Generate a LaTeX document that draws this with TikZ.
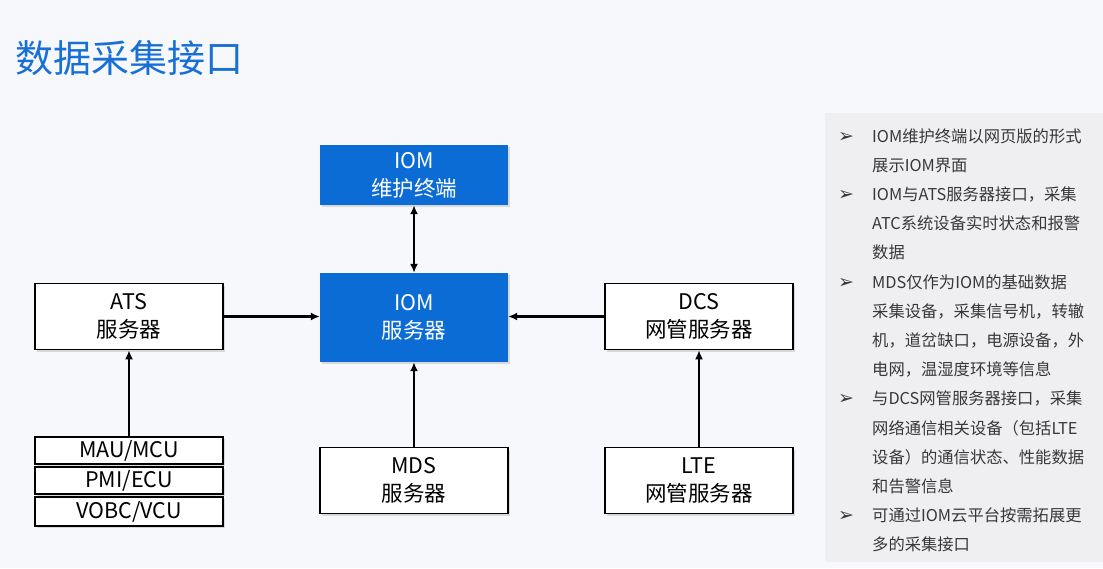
\documentclass[tikz,border=0pt]{standalone}
\usepackage{fontspec}
\setmainfont{Noto Sans CJK SC}
\newfontfamily\symfont{DejaVu Sans}
\usepackage{tikz}
\usetikzlibrary{positioning, arrows.meta, shadows}

\definecolor{iomblue}{RGB}{12,108,214}
\definecolor{titleblue}{RGB}{24,112,214}
\definecolor{pagebg}{RGB}{247,248,252}
\definecolor{panelbg}{RGB}{239,239,242}
\definecolor{paneltxt}{RGB}{56,56,56}

\tikzset{
    bluebox/.style={fill=iomblue, text=white, minimum width=188pt, align=center,
        font=\fontsize{21.5}{28}\selectfont, drop shadow={shadow xshift=2pt, shadow yshift=-2pt, opacity=0.25}},
    whitebox/.style={fill=white, draw=black, line width=1.6pt, minimum width=188pt, align=center,
        font=\fontsize{21.5}{28}\selectfont, drop shadow={shadow xshift=2pt, shadow yshift=-2pt, opacity=0.25}},
    stackbox/.style={whitebox, minimum height=27pt, inner sep=0pt},
    link/.style={line width=2.4pt, -{Latex[length=9pt,width=8pt]}},
    paneltext/.style={anchor=base west, text=paneltxt, inner sep=0pt, font=\fontsize{16.3}{20}\selectfont},
    bullet/.style={anchor=base, text=paneltxt, inner sep=0pt, font=\symfont\fontsize{19}{20}\selectfont}
}

\begin{document}
\begin{tikzpicture}[x=1pt,y=-1pt]
    \fill[pagebg] (0,0) rectangle (1103,568);
    \useasboundingbox (0,0) rectangle (1103,568);
    \fill[panelbg] (825,113) rectangle (1103,562);

    % title
    \node[anchor=west, text=titleblue, font=\fontsize{38}{40}\selectfont] (title) at (12,58) {数据采集接口};

    % boxes
    \node[bluebox, minimum height=60pt] (term) at (414,175) {IOM\\维护终端};
    \node[bluebox, minimum height=89pt] (iom) at (414,317.5) {IOM\\服务器};
    \node[whitebox, minimum height=66pt] (ats) at (129,316.5) {ATS\\服务器};
    \node[whitebox, minimum height=66pt] (dcs) at (699,316.5) {DCS\\网管服务器};
    \node[whitebox, minimum height=66pt] (mds) at (414,480.5) {MDS\\服务器};
    \node[whitebox, minimum height=66pt] (lte) at (699,480.5) {LTE\\网管服务器};
    \node[stackbox] (mau) at (129,450.5) {MAU/MCU};
    \node[stackbox] (pmi) at (129,480.5) {PMI/ECU};
    \node[stackbox, minimum height=29pt] (vobc) at (129,511.5) {VOBC/VCU};

    % connections
    \draw[link, {Latex[length=9pt,width=8pt]}-{Latex[length=9pt,width=8pt]}] (term.south) -- (iom.north);
    \draw[link] (ats.east) -- (ats.east -| iom.west);
    \draw[link] (dcs.west) -- (dcs.west -| iom.east);
    \draw[link] (mds.north) -- (iom.south);
    \draw[link] (lte.north) -- (dcs.south);
    \draw[link] (mau.north) -- (ats.south);

    % notes
    \foreach \txt [count=\i from 0] in {IOM维护终端以网页版的形式, 展示IOM界面,
        IOM与ATS服务器接口，采集, ATC系统设备实时状态和报警, 数据,
        MDS仅作为IOM的基础数据, 采集设备，采集信号机，转辙, 机，道岔缺口，电源设备，外, 电网，温湿度环境等信息,
        与DCS网管服务器接口，采集, 网络通信相关设备（包括LTE, 设备）的通信状态、性能数据, 和告警信息,
        可通过IOM云平台按需拓展更, 多的采集接口}{
        \node[paneltext] (l\i) at (872,{142+29.2*\i}) {\txt};
    }
    \foreach \i in {0,2,5,9,13}{
        \path (l\i.base west) ++(-26,0) node[bullet] (b\i) {➢};
    }
\end{tikzpicture}
\end{document}
